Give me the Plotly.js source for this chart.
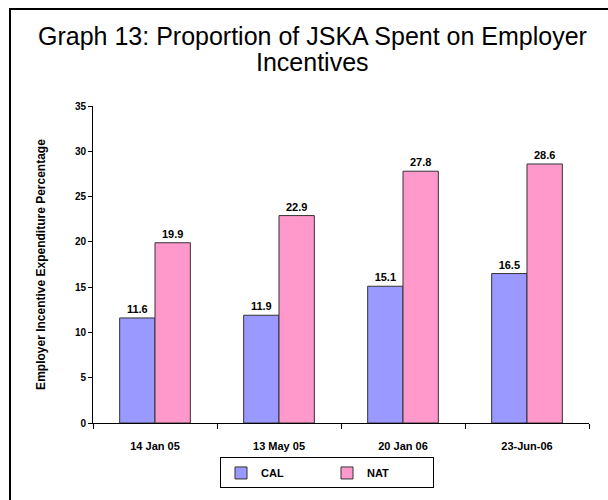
<!DOCTYPE html>
<html>
<head>
<meta charset="utf-8">
<script src="https://cdn.plot.ly/plotly-3.0.1.min.js"></script>
<style>
  html, body { margin: 0; padding: 0; background: #ffffff; }
  #chart { width: 608px; height: 500px; }
</style>
</head>
<body>
<div id="chart"></div>
<script>
const categories = ["14 Jan 05", "13 May 05", "20 Jan 06", "23-Jun-06"];
const calValues = [11.6, 11.9, 15.1, 16.5];
const natValues = [19.9, 22.9, 27.8, 28.6];
const seriesNames = ["CAL", "NAT"];
const titleLines = ["Graph 13: Proportion of JSKA Spent on Employer", "Incentives"];
const yAxisTitle = "Employer Incentive Expenditure Percentage";
const yTicks = [0, 5, 10, 15, 20, 25, 30, 35];

const FONT = "Liberation Sans, Arial, Helvetica, sans-serif";
const W = 608, H = 500;
const M = { l: 93, r: 19, t: 106, b: 72 };
const PW = W - M.l - M.r, PH = H - M.t - M.b;
const px2x = px => (px - M.l) / PW;
const px2y = py => (H - M.b - py) / PH;

function barTrace(name, vals, color) {
  return {
    type: "bar",
    name: name,
    x: categories,
    y: vals,
    marker: { color: color, line: { color: "#333333", width: 1 } },
    text: vals.map(v => v.toFixed(1)),
    textposition: "outside",
    cliponaxis: false,
    textfont: { family: FONT, size: 11, color: "#000000", weight: "bold" },
    hoverinfo: "skip"
  };
}

const data = [
  barTrace(seriesNames[0], calValues, "#9999FF"),
  barTrace(seriesNames[1], natValues, "#FF99CC")
];

const layout = {
  width: W, height: H,
  margin: M,
  paper_bgcolor: "#ffffff",
  plot_bgcolor: "#ffffff",
  font: { family: FONT, color: "#000000" },
  barmode: "group",
  bargap: 0.43,
  bargroupgap: 0,
  showlegend: true,
  legend: {
    orientation: "h",
    x: px2x(220), xanchor: "left",
    y: px2y(463), yanchor: "top",
    bordercolor: "#000000", borderwidth: 1,
    font: { family: FONT, size: 11, weight: "bold" },
    entrywidth: 61,
    itemwidth: 30
  },
  xaxis: {
    type: "category",
    tickson: "boundaries",
    ticks: "outside", ticklen: 5, tickcolor: "#000000",
    ticklabelstandoff: 13,
    showline: true, linecolor: "#000000", linewidth: 1,
    showgrid: false, zeroline: false,
    tickfont: { family: FONT, size: 11, weight: "bold" },
    automargin: false
  },
  yaxis: {
    range: [0, 35],
    tickvals: yTicks,
    ticks: "outside", ticklen: 4, tickcolor: "#000000",
    showline: true, linecolor: "#000000", linewidth: 1,
    showgrid: false, zeroline: false,
    tickfont: { family: FONT, size: 10, weight: "bold" },
    title: { text: yAxisTitle, font: { family: FONT, size: 12, weight: "bold" }, standoff: 26 },
    automargin: false
  },
  annotations: [
    { text: titleLines[0], xref: "paper", yref: "paper", x: px2x(312), y: px2y(35),
      xanchor: "center", yanchor: "middle", showarrow: false,
      font: { family: FONT, size: 25, color: "#000000" } },
    { text: titleLines[1], xref: "paper", yref: "paper", x: px2x(312), y: px2y(61),
      xanchor: "center", yanchor: "middle", showarrow: false,
      font: { family: FONT, size: 25, color: "#000000" } }
  ],
  shapes: [
    { type: "rect", xref: "paper", yref: "paper",
      x0: px2x(10), x1: px2x(640), y0: px2y(530), y1: px2y(7.5),
      line: { color: "#000000", width: 2 }, fillcolor: "rgba(0,0,0,0)", layer: "below" }
  ]
};

Plotly.newPlot("chart", data, layout, { staticPlot: true, displayModeBar: false });
</script>
</body>
</html>
